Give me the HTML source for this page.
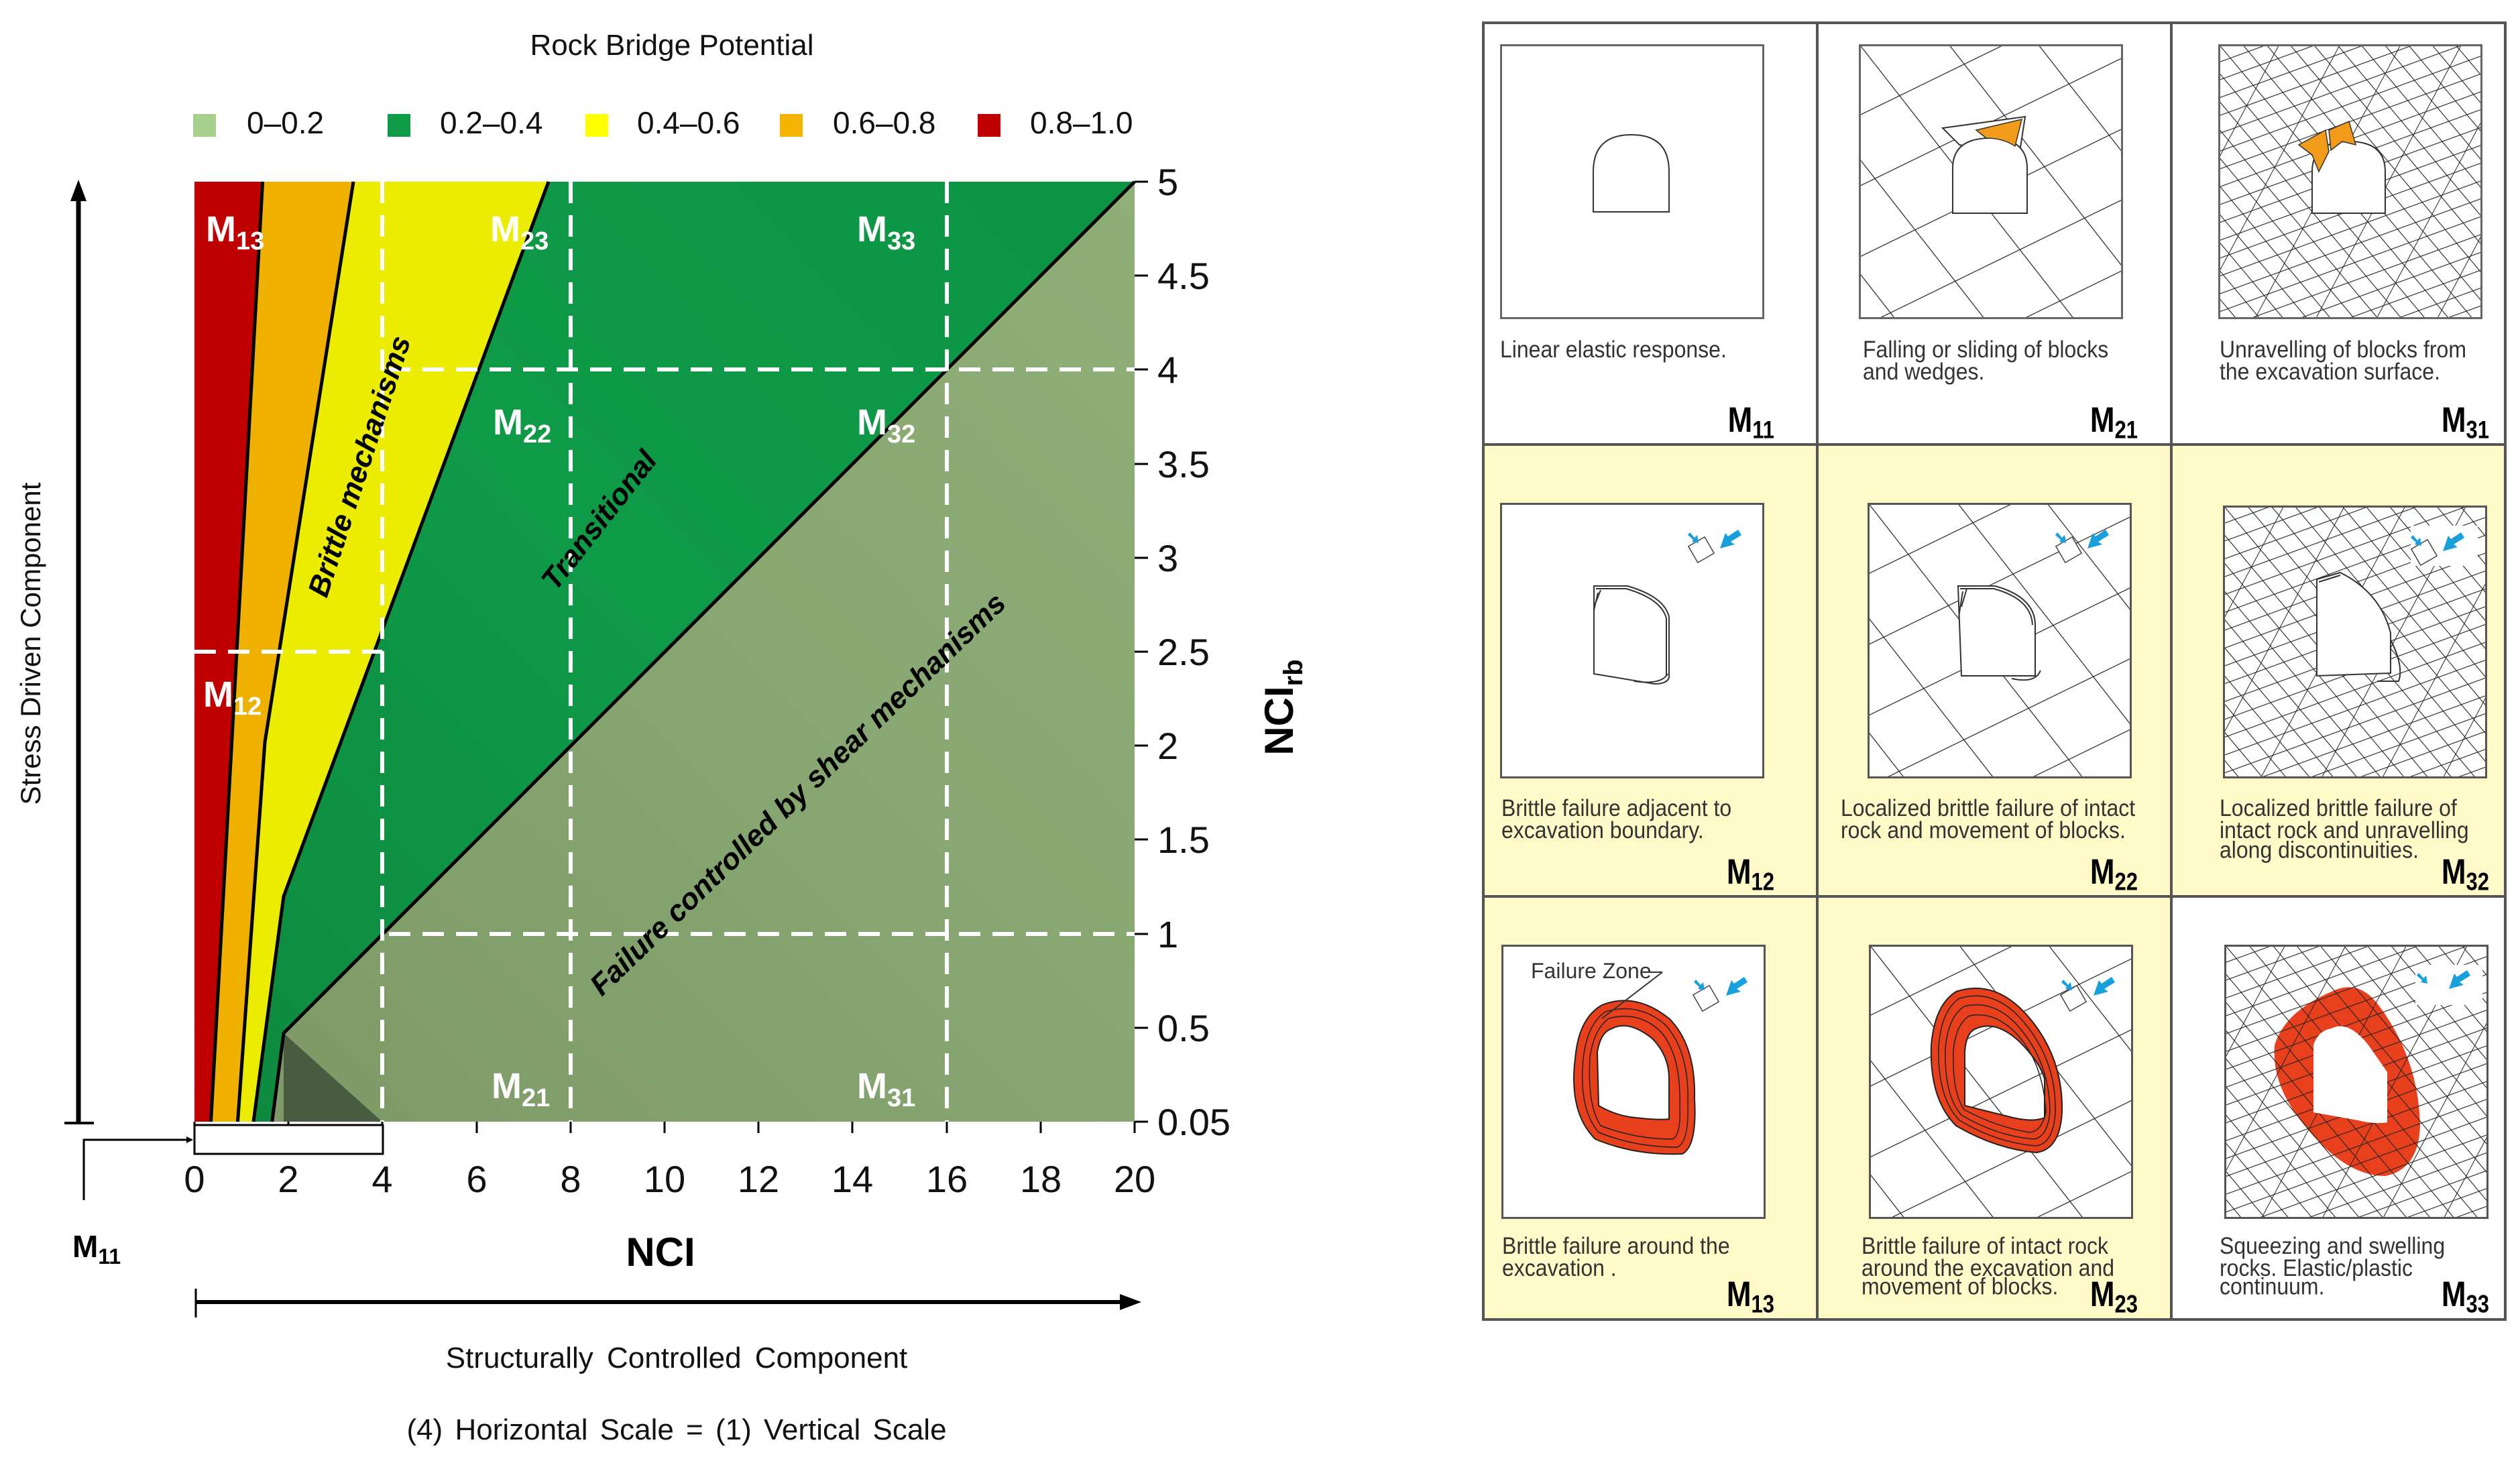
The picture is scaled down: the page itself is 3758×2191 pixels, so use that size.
<!DOCTYPE html>
<html><head><meta charset="utf-8"><style>
html,body{margin:0;padding:0;background:#fff;}
svg{display:block;}
text{font-family:"Liberation Sans",Arial,sans-serif;}
</style></head><body>
<svg width="3758" height="2191" viewBox="0 0 3758 2191" xmlns="http://www.w3.org/2000/svg">
<defs>
  <pattern id="a1" width="105" height="20" patternUnits="userSpaceOnUse" patternTransform="rotate(-38)"><line x1="0" y1="0" x2="0" y2="20" stroke="#222" stroke-width="2.4"/></pattern>
  <pattern id="b1" width="95" height="20" patternUnits="userSpaceOnUse" patternTransform="rotate(64)"><line x1="0" y1="0" x2="0" y2="20" stroke="#222" stroke-width="2.4"/></pattern>
  <pattern id="a3" width="27" height="20" patternUnits="userSpaceOnUse" patternTransform="rotate(-40)"><line x1="0" y1="0" x2="0" y2="20" stroke="#222" stroke-width="2.2"/></pattern>
  <pattern id="b3" width="25" height="20" patternUnits="userSpaceOnUse" patternTransform="rotate(70)"><line x1="0" y1="0" x2="0" y2="20" stroke="#222" stroke-width="2.2"/></pattern>
  <pattern id="c3" width="80" height="20" patternUnits="userSpaceOnUse" patternTransform="rotate(28)"><line x1="0" y1="0" x2="0" y2="20" stroke="#222" stroke-width="2"/></pattern>
  <linearGradient id="gg" x1="0" y1="1" x2="1" y2="0">
    <stop offset="0" stop-color="#7c9866"/><stop offset="0.5" stop-color="#87a671"/><stop offset="1" stop-color="#8fae78"/>
  </linearGradient>
  <linearGradient id="gr" x1="0" y1="1" x2="1" y2="0">
    <stop offset="0" stop-color="#0d8a3f"/><stop offset="0.5" stop-color="#0f9a48"/><stop offset="1" stop-color="#0c9444"/>
  </linearGradient>
  <marker id="ah" markerWidth="10" markerHeight="10" refX="8" refY="5" orient="auto" markerUnits="userSpaceOnUse" viewBox="0 0 10 10"><path d="M0,0 L10,5 L0,10 Z" fill="#000"/></marker>
</defs>

<!-- ===== LEFT CHART ===== -->
<text x="1002" y="82" font-size="44" text-anchor="middle" fill="#111">Rock Bridge Potential</text>
<g font-size="46" fill="#111">
  <rect x="288" y="170" width="34" height="34" fill="#a8d08d"/><text x="368" y="199">0–0.2</text>
  <rect x="578" y="170" width="34" height="34" fill="#0f9a48"/><text x="656" y="199">0.2–0.4</text>
  <rect x="873" y="170" width="34" height="34" fill="#ffff00"/><text x="950" y="199">0.4–0.6</text>
  <rect x="1163" y="170" width="34" height="34" fill="#f5b400"/><text x="1242" y="199">0.6–0.8</text>
  <rect x="1458" y="170" width="34" height="34" fill="#c00000"/><text x="1536" y="199">0.8–1.0</text>
</g>

<polygon points="290,271 1692,271 1692,1673 290,1673" fill="url(#gg)"/>
<polygon points="423,1541 423,1673 570,1673" fill="#4a5c40"/>
<polygon points="818,271 1692,271 423,1541 405.7,1673 378,1673 423,1337" fill="url(#gr)"/>
<polygon points="527,271 818,271 423,1337 378,1673 354.5,1673 395,1107" fill="#ecec00"/>
<polygon points="391.6,271 527,271 395,1107 354.5,1673 314.5,1673" fill="#f0b000"/>
<polygon points="290,271 391.6,271 314.5,1673 290,1673" fill="#c00000"/>
<g fill="none" stroke="#000" stroke-width="5">
  <polyline points="391.6,271 314.5,1673"/>
  <polyline points="527,271 395,1107 354.5,1673"/>
  <polyline points="818,271 423,1337 378,1673"/>
  <polyline points="1692,271 423,1541 405.7,1673"/>
</g>
<g stroke="#fff" stroke-width="6" stroke-dasharray="32 18" fill="none">
  <line x1="570" y1="271" x2="570" y2="1673"/>
  <line x1="851" y1="271" x2="851" y2="1673"/>
  <line x1="1412" y1="271" x2="1412" y2="1673"/>
  <line x1="580" y1="551" x2="1692" y2="551"/>
  <line x1="290" y1="972" x2="570" y2="972"/>
  <line x1="580" y1="1393" x2="1692" y2="1393"/>
</g>
<g font-size="54" font-weight="bold" fill="#fff">
  <text x="307" y="360">M<tspan font-size="38" dy="12">13</tspan></text>
  <text x="731" y="360">M<tspan font-size="38" dy="12">23</tspan></text>
  <text x="1278" y="360">M<tspan font-size="38" dy="12">33</tspan></text>
  <text x="735" y="648">M<tspan font-size="38" dy="12">22</tspan></text>
  <text x="1278" y="648">M<tspan font-size="38" dy="12">32</tspan></text>
  <text x="303" y="1054">M<tspan font-size="38" dy="12">12</tspan></text>
  <text x="733" y="1638">M<tspan font-size="38" dy="12">21</tspan></text>
  <text x="1278" y="1638">M<tspan font-size="38" dy="12">31</tspan></text>
</g>
<g font-size="44" font-weight="bold" font-style="italic" fill="#000">
  <text transform="translate(550,700) rotate(-72)" text-anchor="middle">Brittle mechanisms</text>
  <text transform="translate(905,785) rotate(-52)" text-anchor="middle">Transitional</text>
  <text transform="translate(1200,1195) rotate(-44)" text-anchor="middle">Failure controlled by shear mechanisms</text>
</g>
<g stroke="#000" stroke-width="3">
  <line x1="1692" y1="271" x2="1712" y2="271"/><line x1="1692" y1="411" x2="1712" y2="411"/>
  <line x1="1692" y1="551" x2="1712" y2="551"/><line x1="1692" y1="692" x2="1712" y2="692"/>
  <line x1="1692" y1="832" x2="1712" y2="832"/><line x1="1692" y1="972" x2="1712" y2="972"/>
  <line x1="1692" y1="1112" x2="1712" y2="1112"/><line x1="1692" y1="1252" x2="1712" y2="1252"/>
  <line x1="1692" y1="1393" x2="1712" y2="1393"/><line x1="1692" y1="1533" x2="1712" y2="1533"/>
  <line x1="1692" y1="1673" x2="1712" y2="1673"/>
</g>
<g font-size="56" fill="#111">
  <text x="1726" y="291">5</text><text x="1726" y="431">4.5</text><text x="1726" y="571">4</text>
  <text x="1726" y="712">3.5</text><text x="1726" y="852">3</text><text x="1726" y="992">2.5</text>
  <text x="1726" y="1132">2</text><text x="1726" y="1272">1.5</text><text x="1726" y="1413">1</text>
  <text x="1726" y="1553">0.5</text><text x="1726" y="1693">0.05</text>
</g>
<g stroke="#000" stroke-width="3">
  <line x1="290" y1="1673" x2="290" y2="1690"/><line x1="430" y1="1673" x2="430" y2="1690"/>
  <line x1="570" y1="1673" x2="570" y2="1690"/><line x1="711" y1="1673" x2="711" y2="1690"/>
  <line x1="851" y1="1673" x2="851" y2="1690"/><line x1="991" y1="1673" x2="991" y2="1690"/>
  <line x1="1131" y1="1673" x2="1131" y2="1690"/><line x1="1271" y1="1673" x2="1271" y2="1690"/>
  <line x1="1412" y1="1673" x2="1412" y2="1690"/><line x1="1552" y1="1673" x2="1552" y2="1690"/>
  <line x1="1692" y1="1673" x2="1692" y2="1690"/>
</g>
<g font-size="56" fill="#111" text-anchor="middle">
  <text x="290" y="1778">0</text><text x="430" y="1778">2</text><text x="570" y="1778">4</text>
  <text x="711" y="1778">6</text><text x="851" y="1778">8</text><text x="991" y="1778">10</text>
  <text x="1131" y="1778">12</text><text x="1271" y="1778">14</text><text x="1412" y="1778">16</text>
  <text x="1552" y="1778">18</text><text x="1692" y="1778">20</text>
</g>
<text x="985" y="1888" font-size="60" font-weight="bold" text-anchor="middle">NCI</text>
<text transform="translate(1928,1055) rotate(-90)" font-size="60" font-weight="bold" text-anchor="middle">NCI<tspan font-size="40" dy="14">rb</tspan></text>
<rect x="290" y="1678" width="281" height="43" fill="#fff" stroke="#000" stroke-width="3"/>
<polyline points="125,1790 125,1700 286,1700" fill="none" stroke="#000" stroke-width="3" marker-end="url(#ah)"/>
<text x="108" y="1875" font-size="46" font-weight="bold">M<tspan font-size="32" dy="10">11</tspan></text>
<line x1="117" y1="1675" x2="117" y2="290" stroke="#000" stroke-width="7"/>
<polygon points="117,268 105,300 129,300" fill="#000"/>
<line x1="96" y1="1675" x2="140" y2="1675" stroke="#000" stroke-width="4"/>
<text transform="translate(60,960) rotate(-90)" font-size="42" text-anchor="middle" fill="#111">Stress Driven Component</text>
<line x1="292" y1="1942" x2="1680" y2="1942" stroke="#000" stroke-width="6"/>
<polygon points="1702,1942 1670,1930 1670,1954" fill="#000"/>
<line x1="292" y1="1922" x2="292" y2="1965" stroke="#000" stroke-width="3"/>
<text x="1009" y="2040" font-size="44" text-anchor="middle" fill="#111" word-spacing="8">Structurally Controlled Component</text>
<text x="1009" y="2147" font-size="44" text-anchor="middle" fill="#111" word-spacing="6">(4) Horizontal Scale = (1) Vertical Scale</text>

<!-- ===== RIGHT TABLE ===== -->
<rect x="2212" y="34" width="1524" height="1934" fill="#fff"/>
<rect x="2212" y="663" width="1524" height="674" fill="#fffac8"/>
<rect x="2212" y="1337" width="1026" height="631" fill="#fffac8"/>
<g stroke="#555" stroke-width="4" fill="none">
  <rect x="2212" y="34" width="1524" height="1934"/>
  <line x1="2710" y1="34" x2="2710" y2="1968"/>
  <line x1="3238" y1="34" x2="3238" y2="1968"/>
  <line x1="2212" y1="663" x2="3736" y2="663"/>
  <line x1="2212" y1="1337" x2="3736" y2="1337"/>
</g>

<svg x="2237" y="66" width="394" height="410" viewBox="0 0 394 410">
  <rect x="1.5" y="1.5" width="391" height="407" fill="#fff" stroke="#666" stroke-width="3"/>
  <path d="M139,250 L139,190 Q139,135 196,135 Q252,135 252,190 L252,250 Z" fill="#fff" stroke="#333" stroke-width="2"/>
</svg>
<svg x="2772" y="66" width="394" height="410" viewBox="0 0 394 410">
  <rect width="394" height="410" fill="#fff"/>
  <rect width="394" height="410" fill="url(#a1)"/>
  <rect width="394" height="410" fill="url(#b1)"/>
  <polygon points="125,125 248,108 240,160 200,160 150,150" fill="#fff" stroke="#333" stroke-width="2"/>
  <path d="M140,252 L140,185 Q140,140 196,140 Q251,140 251,185 L251,252 Z" fill="#fff" stroke="#333" stroke-width="2"/>
  <path d="M175,128 L243,112 L233,152 Q215,140 190,140 Z" fill="#f29a1a" stroke="#333" stroke-width="1.5"/>
  <rect x="1.5" y="1.5" width="391" height="407" fill="none" stroke="#666" stroke-width="3"/>
</svg>
<svg x="3308" y="66" width="394" height="410" viewBox="0 0 394 410">
  <rect width="394" height="410" fill="#fff"/>
  <rect width="394" height="410" fill="url(#a3)"/>
  <rect width="394" height="410" fill="url(#b3)"/>
  <rect width="394" height="410" fill="url(#c3)"/>
  <path d="M140,252 L140,190 Q140,145 195,145 Q249,145 249,190 L249,252 Z" fill="#fff" stroke="#333" stroke-width="2"/>
  <path d="M120,150 L160,128 L165,160 L150,190 L140,165 Z" fill="#f29a1a" stroke="#333" stroke-width="1.5"/>
  <path d="M165,128 L195,115 L205,150 L185,145 L168,158 Z" fill="#f29a1a" stroke="#333" stroke-width="1.5"/>
  <rect x="1.5" y="1.5" width="391" height="407" fill="none" stroke="#666" stroke-width="3"/>
</svg>

<svg x="2237" y="750" width="394" height="411" viewBox="0 0 394 411">
  <rect x="1.5" y="1.5" width="391" height="408" fill="#fff" stroke="#555" stroke-width="3"/>
  <g fill="none" stroke="#333" stroke-width="2">
    <path d="M140,124 L190,124 Q245,140 252,170 L252,260 Q250,270 230,270 L140,255 Z" fill="#fff"/>
    <path d="M143,128 L188,128 Q240,143 248,172 L248,258"/>
    <path d="M146,134 L140,160"/><path d="M150,130 L142,150"/>
    <path d="M200,266 Q240,272 250,255"/>
  </g>
  <g transform="translate(300,70) rotate(-30)"><rect x="-14" y="-14" width="28" height="28" fill="#fff" stroke="#444" stroke-width="1.5"/></g>
  <path d="M355,40 L340,50 L336,45 L328,68 L350,62 L344,58 L360,48 Z" fill="#18a0dc"/>
  <path d="M283,44 L290,52 L294,48 L296,60 L286,58 L288,55 L280,48 Z" fill="#18a0dc"/>
</svg>
<svg x="2785" y="750" width="394" height="411" viewBox="0 0 394 411">
  <rect width="394" height="411" fill="#fff"/>
  <rect width="394" height="411" fill="url(#a1)"/>
  <rect width="394" height="411" fill="url(#b1)"/>
  <g fill="none" stroke="#333" stroke-width="2">
    <path d="M135,124 L190,124 Q248,140 250,180 L250,258 L140,258 Z" fill="#fff"/>
    <path d="M138,128 L188,128 Q244,143 246,182"/>
    <path d="M142,132 L136,170"/><path d="M148,128 L140,155"/>
    <path d="M215,262 Q250,270 258,250"/>
  </g>
  <g transform="translate(300,70) rotate(-30)"><rect x="-14" y="-14" width="28" height="28" fill="#fff" stroke="#444" stroke-width="1.5"/></g>
  <path d="M355,40 L340,50 L336,45 L328,68 L350,62 L344,58 L360,48 Z" fill="#18a0dc"/>
  <path d="M283,44 L290,52 L294,48 L296,60 L286,58 L288,55 L280,48 Z" fill="#18a0dc"/>
  <rect x="1.5" y="1.5" width="391" height="408" fill="none" stroke="#555" stroke-width="3"/>
</svg>
<svg x="3315" y="754" width="394" height="407" viewBox="0 0 394 407">
  <rect width="394" height="407" fill="#fff"/>
  <rect width="394" height="407" fill="url(#a3)"/>
  <rect width="394" height="407" fill="url(#b3)"/>
  <rect width="394" height="407" fill="url(#c3)"/>
  <g fill="none" stroke="#333" stroke-width="2">
    <path d="M140,110 L175,100 Q235,130 250,190 L250,250 L140,254 Z" fill="#fff"/>
    <path d="M250,200 Q270,240 262,262 L230,262"/>
    <path d="M143,114 L175,104"/>
  </g>
  <rect x="280" y="30" width="100" height="60" fill="#fff"/>
  <g transform="translate(300,70) rotate(-30)"><rect x="-14" y="-14" width="28" height="28" fill="#fff" stroke="#444" stroke-width="1.5"/></g>
  <path d="M355,40 L340,50 L336,45 L328,68 L350,62 L344,58 L360,48 Z" fill="#18a0dc"/>
  <path d="M283,44 L290,52 L294,48 L296,60 L286,58 L288,55 L280,48 Z" fill="#18a0dc"/>
  <rect x="1.5" y="1.5" width="391" height="404" fill="none" stroke="#555" stroke-width="3"/>
</svg>

<svg x="2239" y="1409" width="394" height="409" viewBox="0 0 394 409">
  <rect x="1.5" y="1.5" width="391" height="406" fill="#fff" stroke="#555" stroke-width="3"/>
  <path fill-rule="evenodd" fill="#e8401c" stroke="#222" stroke-width="2" d="M150,90 Q200,70 250,110 Q290,150 288,230 Q292,300 270,312 Q200,315 140,290 Q100,250 110,170 Q115,110 150,90 Z M165,125 Q190,112 225,140 Q250,165 250,200 L250,260 Q235,262 200,258 Q170,255 145,240 L143,160 Q148,130 165,125 Z"/>
  <g fill="none" stroke="#222" stroke-width="1.5">
    <path d="M155,100 Q205,85 245,120 Q280,160 278,235 Q280,295 262,302 Q200,302 145,280 Q115,245 122,170 Q128,118 155,100"/>
    <path d="M160,110 Q205,98 238,130 Q268,165 266,240 Q268,285 255,290 Q200,290 148,270 Q128,240 132,168 Q138,126 160,110"/>
  </g>
  <text x="44" y="50" font-size="32" fill="#333">Failure Zone</text>
  <line x1="222" y1="41" x2="240" y2="41" stroke="#333" stroke-width="2"/>
  <line x1="240" y1="41" x2="150" y2="110" stroke="#333" stroke-width="2"/>
  <g transform="translate(305,80) rotate(-30)"><rect x="-14" y="-14" width="28" height="28" fill="#fff" stroke="#444" stroke-width="1.5"/></g>
  <path d="M362,48 L347,58 L343,53 L335,76 L357,70 L351,66 L367,56 Z" fill="#18a0dc"/>
  <path d="M290,52 L297,60 L301,56 L303,68 L293,66 L295,63 L287,56 Z" fill="#18a0dc"/>
</svg>
<svg x="2787" y="1409" width="394" height="409" viewBox="0 0 394 409">
  <rect width="394" height="409" fill="#fff"/>
  <rect width="394" height="409" fill="url(#a1)"/>
  <rect width="394" height="409" fill="url(#b1)"/>
  <path fill-rule="evenodd" fill="#e8401c" stroke="#222" stroke-width="2" d="M130,70 Q190,50 240,110 Q290,170 288,250 Q285,305 250,310 Q190,305 130,270 Q90,230 93,150 Q98,90 130,70 Z M160,125 Q190,112 225,145 Q255,175 262,200 L262,258 Q245,265 215,258 L143,240 L143,160 Q145,130 160,125 Z"/>
  <g fill="none" stroke="#222" stroke-width="1.5">
    <path d="M135,80 Q190,64 233,118 Q280,175 278,250 Q275,298 248,300 Q190,295 135,262 Q102,228 104,152 Q108,98 135,80"/>
    <path d="M142,92 Q190,80 228,128 Q270,180 270,250 Q266,288 245,290 Q190,285 138,254 Q112,225 114,155 Q118,108 142,92"/>
    <path d="M150,106 Q190,98 225,138 Q260,180 264,250 Q258,278 240,280 Q190,272 142,246 Q124,220 126,158 Q130,118 150,106"/>
  </g>
  <g transform="translate(305,80) rotate(-30)"><rect x="-14" y="-14" width="28" height="28" fill="#fff" stroke="#444" stroke-width="1.5"/></g>
  <path d="M362,48 L347,58 L343,53 L335,76 L357,70 L351,66 L367,56 Z" fill="#18a0dc"/>
  <path d="M290,52 L297,60 L301,56 L303,68 L293,66 L295,63 L287,56 Z" fill="#18a0dc"/>
  <rect x="1.5" y="1.5" width="391" height="406" fill="none" stroke="#555" stroke-width="3"/>
</svg>
<svg x="3317" y="1409" width="394" height="409" viewBox="0 0 394 409">
  <rect width="394" height="409" fill="#fff"/>
  <path fill-rule="evenodd" fill="#e8401c" d="M160,70 Q200,50 230,90 Q290,170 292,270 Q290,335 240,345 Q180,345 120,270 Q70,210 75,150 Q90,100 160,70 Z M160,125 Q185,112 215,150 L243,190 L243,265 Q225,268 200,262 L133,250 L133,150 Q140,128 160,125 Z"/>
  <rect width="394" height="409" fill="url(#a3)"/>
  <rect width="394" height="409" fill="url(#b3)"/>
  <rect width="394" height="409" fill="url(#c3)"/>
  <path d="M160,125 Q185,112 215,150 L243,190 L243,265 Q225,268 200,262 L133,250 L133,150 Q140,128 160,125 Z" fill="#fff"/>
  <rect x="285" y="30" width="100" height="60" fill="#fff"/>
  <path d="M362,38 L347,48 L343,43 L335,66 L357,60 L351,56 L367,46 Z" fill="#18a0dc"/>
  <path d="M290,42 L297,50 L301,46 L303,58 L293,56 L295,53 L287,46 Z" fill="#18a0dc"/>
  <rect x="1.5" y="1.5" width="391" height="406" fill="none" stroke="#555" stroke-width="3"/>
</svg>

<g font-size="32" fill="#333">
  <g transform="translate(2237,533) scale(1,1.1)"><text>Linear elastic response.</text></g>
  <g transform="translate(2778,533) scale(1,1.1)"><text>Falling or sliding of blocks</text><text y="30">and wedges.</text></g>
  <g transform="translate(3310,533) scale(1,1.1)"><text>Unravelling of blocks from</text><text y="30">the excavation surface.</text></g>
  <g transform="translate(2239,1217) scale(1,1.1)"><text>Brittle failure adjacent to</text><text y="30">excavation boundary.</text></g>
  <g transform="translate(2745,1217) scale(1,1.1)"><text>Localized brittle failure of intact</text><text y="30">rock and movement of blocks.</text></g>
  <g transform="translate(3310,1217) scale(1,1.1)"><text>Localized brittle failure of</text><text y="30">intact rock and unravelling</text><text y="57">along discontinuities.</text></g>
  <g transform="translate(2240,1870) scale(1,1.1)"><text>Brittle failure around the</text><text y="30">excavation .</text></g>
  <g transform="translate(2776,1870) scale(1,1.1)"><text>Brittle failure of intact rock</text><text y="30">around the excavation and</text><text y="55">movement of blocks.</text></g>
  <g transform="translate(3310,1870) scale(1,1.1)"><text>Squeezing and swelling</text><text y="30">rocks. Elastic/plastic</text><text y="55">continuum.</text></g>
</g>
<g font-size="44" font-weight="bold" fill="#000" text-anchor="end">
  <g transform="translate(2646,644) scale(1,1.2)"><text>M<tspan font-size="31" dy="8">11</tspan></text></g>
  <g transform="translate(3188,644) scale(1,1.2)"><text>M<tspan font-size="31" dy="8">21</tspan></text></g>
  <g transform="translate(3712,644) scale(1,1.2)"><text>M<tspan font-size="31" dy="8">31</tspan></text></g>
  <g transform="translate(2646,1318) scale(1,1.2)"><text>M<tspan font-size="31" dy="8">12</tspan></text></g>
  <g transform="translate(3188,1318) scale(1,1.2)"><text>M<tspan font-size="31" dy="8">22</tspan></text></g>
  <g transform="translate(3712,1318) scale(1,1.2)"><text>M<tspan font-size="31" dy="8">32</tspan></text></g>
  <g transform="translate(2646,1948) scale(1,1.2)"><text>M<tspan font-size="31" dy="8">13</tspan></text></g>
  <g transform="translate(3188,1948) scale(1,1.2)"><text>M<tspan font-size="31" dy="8">23</tspan></text></g>
  <g transform="translate(3712,1948) scale(1,1.2)"><text>M<tspan font-size="31" dy="8">33</tspan></text></g>
</g>
</svg>
</body></html>
